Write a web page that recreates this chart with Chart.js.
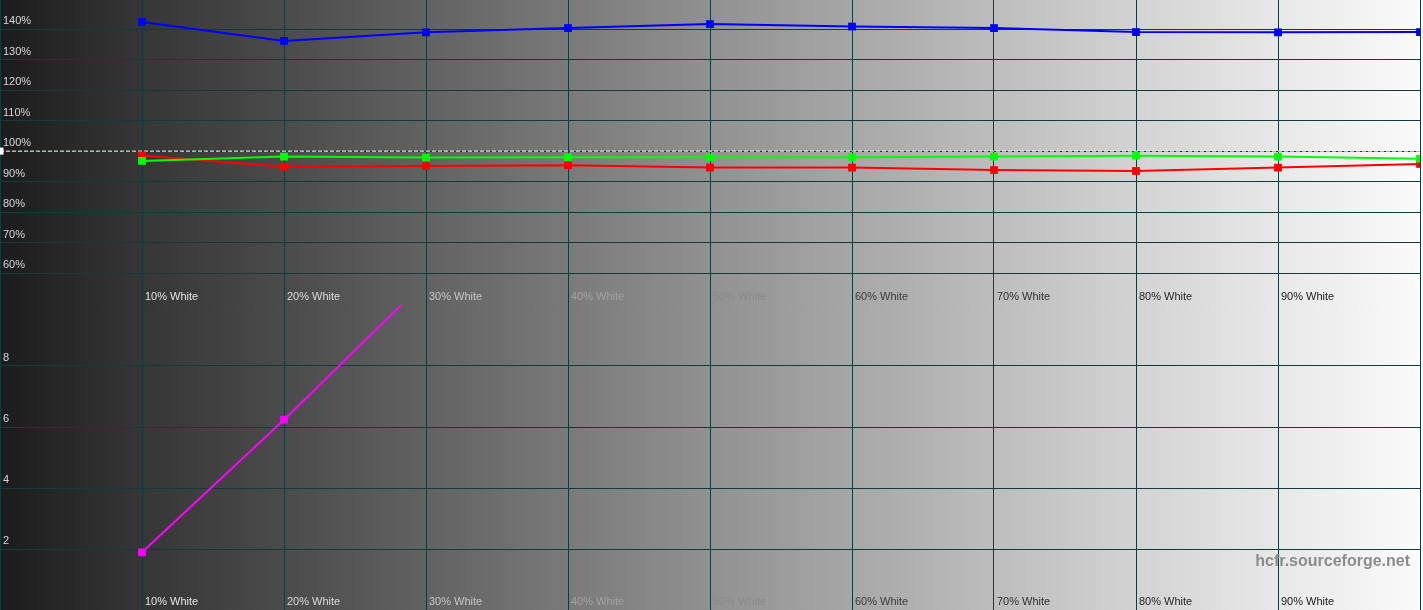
<!DOCTYPE html>
<html>
<head>
<meta charset="utf-8">
<title>RGB levels / DeltaE</title>
<script src="https://cdn.jsdelivr.net/npm/chart.js@4.4.1/dist/chart.umd.min.js"></script>
<style>
    html, body { margin: 0; padding: 0; background: #1c1c1c; overflow: hidden; }
    #wrap { position: relative; width: 1423px; height: 610px; }
    #wrap canvas { position: absolute; left: 0; }
    #levels { top: 0; }
    #deltae { top: 305px; }
    #mark {
        position: absolute; right: 13px; top: 552px;
        font: bold 16px "Liberation Sans", Arial, sans-serif; color: #8c8c8c;
    }
</style>
</head>
<body>
<div id="wrap">
    <canvas id="levels" width="1423" height="305"></canvas>
    <canvas id="deltae" width="1423" height="305"></canvas>
    <div id="mark">hcfr.sourceforge.net</div>
</div>
<script>
const steps = [10, 20, 30, 40, 50, 60, 70, 80, 90, 100];
const redLevels   = [98.6, 94.9, 95.1, 95.4, 94.6, 94.6, 93.8, 93.5, 94.6, 95.8];
const greenLevels = [96.8, 98.2, 97.9, 98.0, 98.0, 98.0, 98.2, 98.5, 98.2, 97.5];
const blueLevels  = [142.3, 136.1, 138.9, 140.3, 141.6, 140.8, 140.3, 139.0, 138.9, 139.0];
const deltaE      = [1.89, 6.24, 10.8, null, null, null, null, null, null, null];

// axis ticks
const xTicks = [0, 10, 20, 30, 40, 50, 60, 70, 80, 90, 100];
const xLabels = ['', '10% White', '20% White', '30% White', '40% White', '50% White',
    '60% White', '70% White', '80% White', '90% White', ''];
const levelTicks = [60, 70, 80, 90, 100, 110, 120, 130, 140];
const deltaTicks = [2, 4, 6, 8];
const reference = [100, 100];

const FONT = '"Liberation Sans", Arial, sans-serif';
const gridColor = '#133b3b';
// label colour follows the background so it goes from light to dark
const labelColors = ['#000', '#e4e4e4', '#dadada', '#c6c6c6', '#a2a2a2', '#8a8a8a',
    '#3c3c3c', '#303030', '#262626', '#202020', '#000'];

const toPoints = (ys) => steps.map((s, i) => ({ x: s, y: ys[i] }));

// grey ramp behind the plot, as in HCFR
const background = {
    id: 'background',
    beforeDraw(chart) {
        const { ctx, width, height } = chart;
        const g = ctx.createLinearGradient(0, 0, width, 0);
        const stops = ['#1c1c1c', '#363636', '#4b4b4b', '#626262', '#7a7a7a', '#919191',
            '#a7a7a7', '#bdbdbd', '#d3d3d3', '#e8e8e8', '#fbfbfb'];
        stops.forEach((c, i) => g.addColorStop(i / 10, c));
        ctx.save();
        ctx.fillStyle = g;
        ctx.fillRect(0, 0, width, height);
        ctx.restore();
    }
};

// x labels sit inside the plot, just right of each grid line, near the bottom
const insideLabels = {
    id: 'insideLabels',
    afterDatasetsDraw(chart) {
        const { ctx, chartArea } = chart;
        const xs = chart.scales.x;
        ctx.save();
        ctx.font = '11px ' + FONT;
        ctx.textAlign = 'left';
        ctx.textBaseline = 'middle';
        xTicks.forEach((v, i) => {
            if (!xLabels[i]) return;
            ctx.fillStyle = labelColors[i];
            ctx.fillText(xLabels[i], xs.getPixelForValue(v) + 3, chartArea.bottom - 8);
        });
        ctx.restore();
    }
};

function xScale() {
    return {
        type: 'linear',
        min: 0,
        max: 100,
        afterBuildTicks: (s) => { s.ticks = xTicks.map(v => ({ value: v })); },
        afterFit: (s) => { s.height = 0; s.paddingLeft = 0; s.paddingRight = 0; },
        grid: { color: gridColor, drawTicks: false },
        border: { display: false },
        ticks: { display: false }
    };
}

function yScale(min, max, ticks, fmt) {
    return {
        min: min,
        max: max,
        afterBuildTicks: (s) => { s.ticks = ticks.map(v => ({ value: v })); },
        afterFit: (s) => { s.width = 0; s.paddingTop = 0; s.paddingBottom = 0; },
        grid: { color: gridColor, drawTicks: false },
        border: { display: false },
        ticks: {
            mirror: true,
            padding: 3,
            labelOffset: -8,
            font: { family: FONT, size: 11 },
            color: '#d6d6d6',
            callback: fmt
        }
    };
}

function series(label, ys, color, order) {
    return {
        label: label,
        data: toPoints(ys),
        borderColor: color,
        backgroundColor: color,
        borderWidth: 2,
        pointStyle: 'rect',
        pointRadius: 5.5,
        pointBorderWidth: 0,
        tension: 0,
        order: order
    };
}

const common = {
    responsive: false,
    animation: false,
    events: [],
    layout: { autoPadding: false, padding: { left: 0, right: 3, top: 0, bottom: 0 } },
    plugins: { legend: { display: false }, tooltip: { enabled: false } }
};

new Chart(document.getElementById('levels'), {
    type: 'line',
    data: {
        datasets: [
            {
                label: 'Reference',
                data: [{ x: 0, y: reference[0] }, { x: 100, y: reference[1] }],
                borderColor: '#ffffff',
                backgroundColor: '#ffffff',
                borderWidth: 1,
                borderDash: [4, 2],
                pointStyle: 'rect',
                pointRadius: [5, 0],
                pointBorderWidth: 0,
                order: 4
            },
            series('Blue', blueLevels, '#0000ff', 3),
            series('Red', redLevels, '#ff0000', 2),
            series('Green', greenLevels, '#00ff00', 1)
        ]
    },
    options: Object.assign({}, common, {
        scales: {
            x: xScale(),
            y: yScale(49.6, 149.5, levelTicks, (v) => v + '%')
        }
    }),
    plugins: [background, insideLabels]
});

new Chart(document.getElementById('deltae'), {
    type: 'line',
    data: {
        datasets: [series('DeltaE', deltaE, '#ff00ff', 1)]
    },
    options: Object.assign({}, common, {
        scales: {
            x: xScale(),
            y: yScale(0, 10, deltaTicks, (v) => String(v))
        }
    }),
    plugins: [background, insideLabels]
});
</script>
</body>
</html>
